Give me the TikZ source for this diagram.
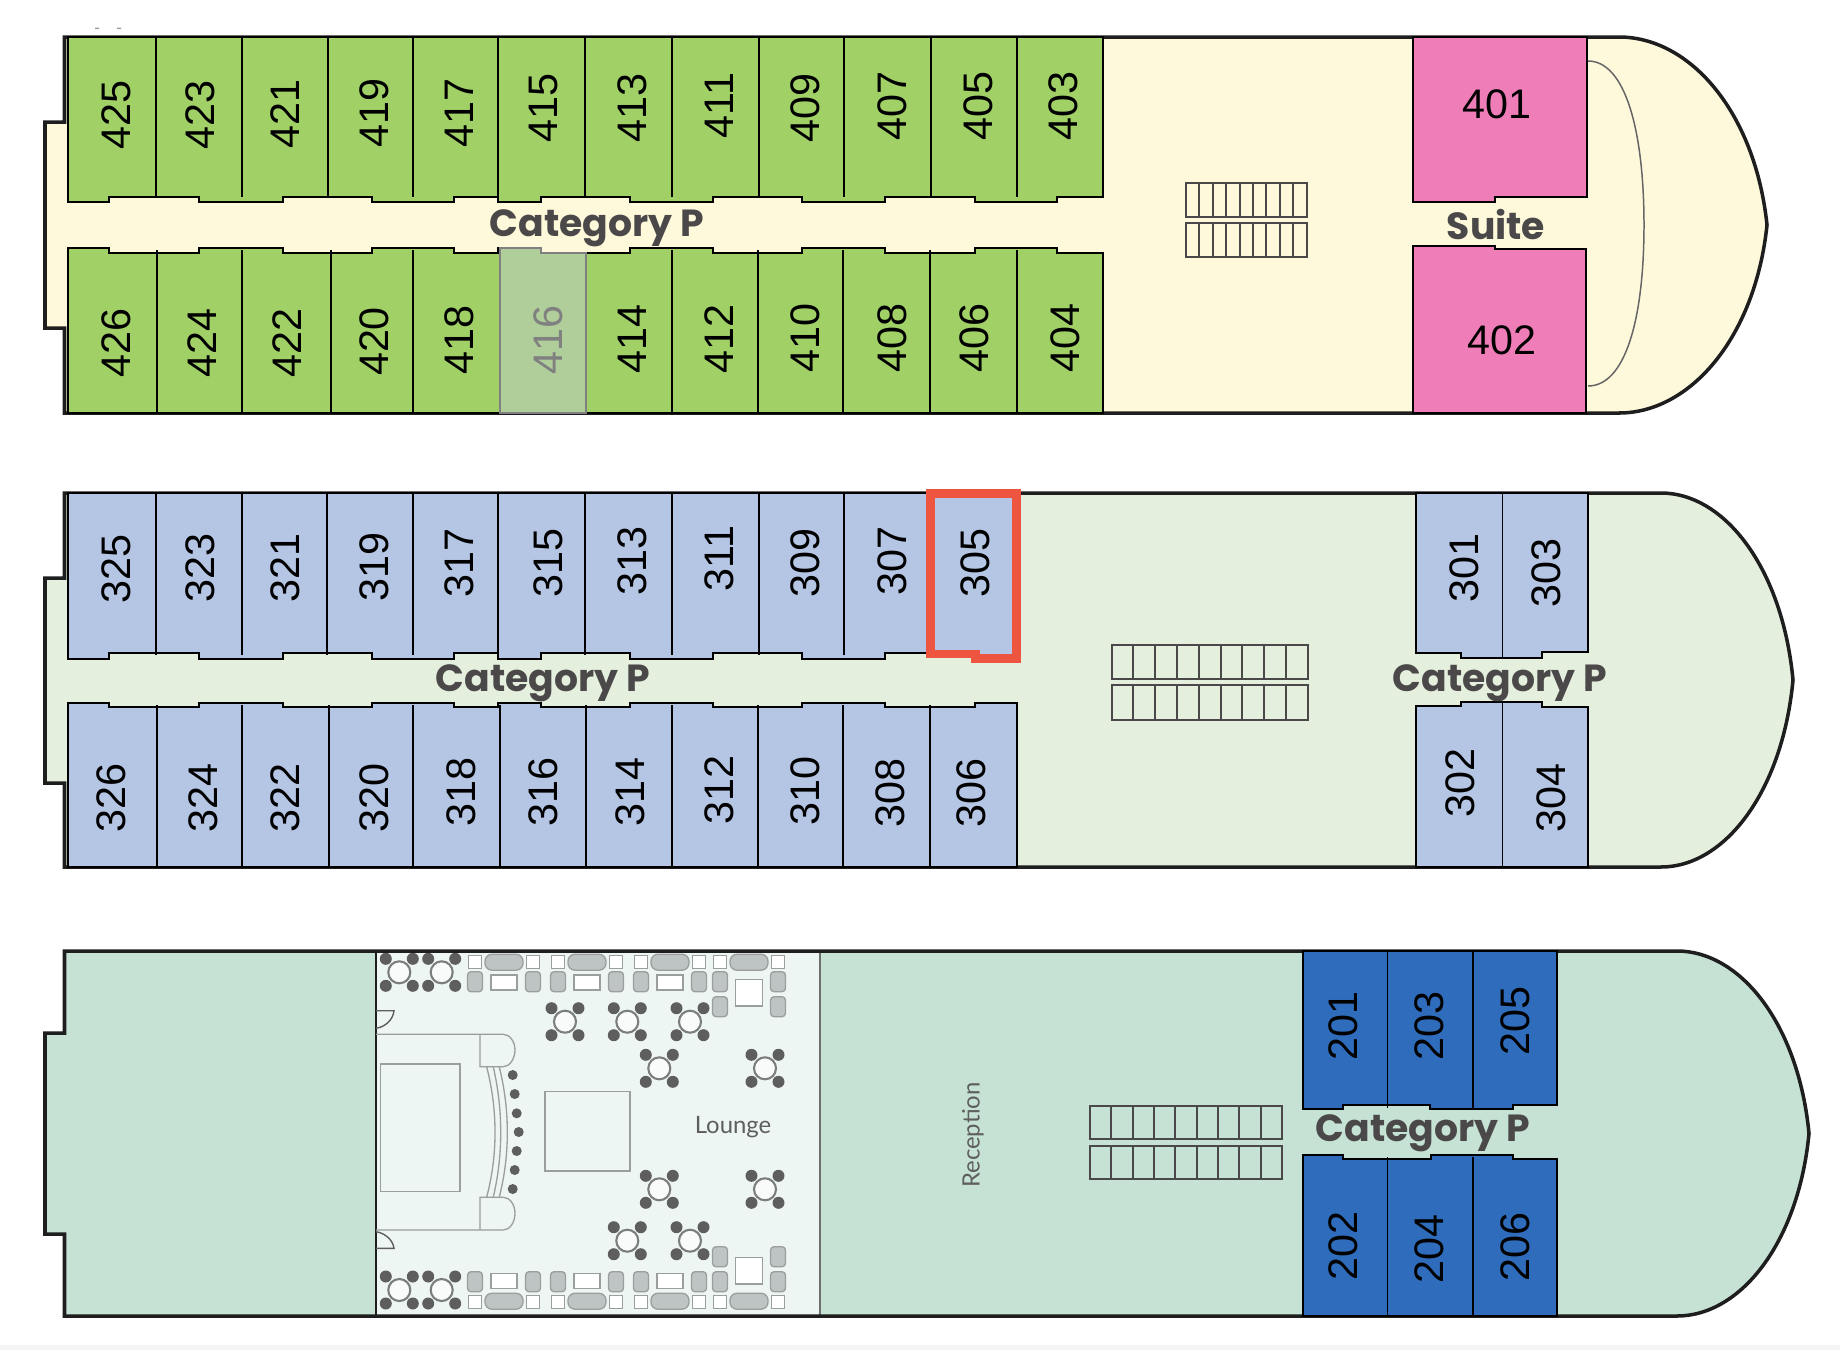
\documentclass[tikz,border=0pt]{standalone}
\usepackage{xcolor}
\usepackage{fontspec}
\usepackage{tikz}
\setmainfont{Liberation Sans}
\newfontfamily\catfont{Poppins}
\newfontfamily\signfont{Lato}
\definecolor{inkline}{HTML}{1E1E1E}
\definecolor{deckfour}{HTML}{FEF9DB}
\definecolor{deckthree}{HTML}{E5EFDD}
\definecolor{decktwo}{HTML}{C6E2D4}
\definecolor{loungebg}{HTML}{EEF6F3}
\definecolor{catgreen}{HTML}{A0D066}
\definecolor{catfaded}{HTML}{B0CE9A}
\definecolor{catpink}{HTML}{EF7EB8}
\definecolor{catlilac}{HTML}{B5C5E4}
\definecolor{catblue}{HTML}{2F6DBC}
\definecolor{marker}{HTML}{EE5540}
\definecolor{catgrey}{HTML}{4A4848}
\definecolor{fittings}{HTML}{9A9E9C}
\definecolor{softseat}{HTML}{BEC4C4}
\definecolor{darkseat}{HTML}{5E5E5E}
\tikzset{
  hullline/.style={draw=inkline, line width=2pt, line join=miter},
  cabin/.style={draw=black, line width=1.15pt},
  divider/.style={draw=black, line width=0.85pt},
  stairline/.style={draw=catgrey, line width=1.1pt},
  roomlabel/.style={rotate=90, font=\fontsize{23.5}{26}\selectfont, inner sep=0pt},
  flatlabel/.style={font=\fontsize{23.5}{26}\selectfont, inner sep=0pt},
  catlabel/.style={text=catgrey, font=\catfont\bfseries\fontsize{21.5}{24}\selectfont, inner sep=0pt},
  signlabel/.style={text=darkseat, font=\signfont\fontsize{13.6}{16}\selectfont, inner sep=0pt},
  fitting/.style={draw=fittings, line width=0.75pt},
  tableset/.pic={
    \fill[darkseat] (-13.5,-13.5) circle (6) (13.5,-13.5) circle (6) (-13.5,13.5) circle (6) (13.5,13.5) circle (6);
    \filldraw[draw=fittings!80!black, line width=1.2pt, fill=loungebg!40!white] (0,0) circle (11);
  },
  sofaset/.pic={
    \foreach \sx in {-29,29} {
      \filldraw[fitting, fill=white] (\sx-6.5,-6.5) rectangle (\sx+6.5,6.5);
      \filldraw[fitting, fill=softseat, rounded corners=2pt] (\sx-7.5,10) rectangle (\sx+7.5,30);
    }
    \filldraw[fitting, fill=softseat, rounded corners=4pt] (-19,-7.5) rectangle (19,8.5);
  },
  sofatable/.pic={\filldraw[fitting, fill=white] (-13,13.3) rectangle (13,28.3);},
  cornertable/.pic={
    \foreach \sx in {-29,29}
      \filldraw[fitting, fill=softseat, rounded corners=2pt] (\sx-7.5,35) rectangle (\sx+7.5,55);
    \filldraw[fitting, fill=white] (-13.3,17.7) rectangle (13.3,44.3);
  },
}
% outline of a deck: top, bottom, notch top, notch bottom, end of straight side, bow tip
\newcommand{\hullpath}[6]{(64.5,#1) -- (#5,#1)
  .. controls ({#5+0.48*(#6-#5)},#1) and ({#6-0.08*(#6-#5)},{(#1+#2)/2-0.3*(#2-#1)}) .. (#6,{(#1+#2)/2})
  .. controls ({#6-0.08*(#6-#5)},{(#1+#2)/2+0.3*(#2-#1)}) and ({#5+0.48*(#6-#5)},#2) .. (#5,#2)
  -- (64.5,#2) -- (64.5,#4) -- (45,#4) -- (45,#3) -- (64.5,#3) -- cycle}
% corridor edge shared by decks 4 and 3
\newcommand{\stepedge}[2]{(68,#1) -| (109,#2) -| (199,#1) -| (283,#2) -| (372,#1) -| (454,#2)
  -| (498,#1) -| (541,#2) -| (630,#1) -| (713,#2) -| (802,#1) -| (885,#2)}
\newcommand{\stairs}[4]{
  \draw[stairline] (#1,#3) rectangle (#2,#4);
  \foreach \i in {1,...,8} \draw[stairline] ({#1+\i*(#2-#1)/9},#3) -- ({#1+\i*(#2-#1)/9},#4);
}

\begin{document}
\begin{tikzpicture}[x=0.02cm, y=-0.02cm]
  \useasboundingbox (0,0) rectangle (1840,1350);
  \fill[white] (0,0) rectangle (1840,1350);
  \fill[black!4] (0,1345) rectangle (1840,1350);
  \fill[fittings] (95,27.5) rectangle (99,29) (117,27.5) rectangle (121,29);

  % deck 4
  \fill[deckfour] \hullpath{37}{413}{122}{328}{1619}{1767};
  \draw[hullline] \hullpath{37}{413}{122}{328}{1619}{1767};
  \draw[cabin, fill=catgreen] (1103,37) -- (68,37) -- \stepedge{202}{197} -| (975,202) -| (1057,197) -- (1103,197) -- cycle;
  \draw[cabin, fill=catgreen] \stepedge{248}{253} -| (975,248) -| (1057,253) -- (1103,253) -- (1103,413) -- (68,413) -- cycle;
  \draw[draw=black!50, line width=0.85pt, fill=catfaded] (500,413) -- (500,248) -- (541,248) -- (541,253) -- (586,253) -- (586,413) -- cycle;
  \foreach \dx in {156,242,328,413,498,585,672,759,844,931,1017}
    \draw[divider] (\dx,37) -- (\dx,197);
  \foreach \dx in {157,242,331,413,672,758,843,930,1017}
    \draw[divider] (\dx,250) -- (\dx,413);
  \draw[cabin, fill=catpink] (1413,37) -- (1587,37) -- (1587,197) -- (1495,197) -- (1495,202) -- (1413,202) -- cycle;
  \draw[cabin, fill=catpink] (1413,246) -- (1495,246) -- (1495,249) -- (1586,249) -- (1586,413) -- (1413,413) -- cycle;
  \draw[draw=black!60, line width=0.85pt] (1588,61) .. controls (1625,61) and (1644,130) .. (1644,225) .. controls (1644,320) and (1625,386) .. (1588,386);
  \stairs{1186}{1306.6}{183}{217}
  \stairs{1186}{1306.6}{223}{257}

  % deck 3
  \fill[deckthree] \hullpath{493}{867}{578}{783}{1661}{1793};
  \draw[hullline] \hullpath{493}{867}{578}{783}{1661}{1793};
  \draw[cabin, fill=catlilac] (1017,493) -- (68,493) -- \stepedge{659}{653} -- (1017,653) -- cycle;
  \draw[cabin, fill=catlilac] \stepedge{703}{707} -| (975,703) -- (1017,703) -- (1017,867) -- (68,867) -- cycle;
  \foreach \dx in {156,242,327,413,498,585,672,759,844}
    \draw[divider] (\dx,493) -- (\dx,655);
  \foreach \dx in {157,242,329,413,500,586,672,758,843,930}
    \draw[divider] (\dx,705) -- (\dx,867);
  \draw[cabin, fill=catlilac] (1415.6,493) -- (1587.6,493) -- (1587.6,652) -- (1541.5,652) -- (1541.5,658) -- (1460.5,658) -- (1460.5,653) -- (1415.6,653) -- cycle;
  \draw[cabin, fill=catlilac] (1415.6,706) -- (1460.5,706) -- (1460.5,702) -- (1541.5,702) -- (1541.5,707) -- (1587.6,707) -- (1587.6,867) -- (1415.6,867) -- cycle;
  \draw[divider] (1502.5,493) -- (1502.5,657) (1502.5,703) -- (1502.5,867);
  \draw[draw=marker, line width=5.1pt, line join=miter, fill=catlilac] (930.5,493.5) -- (1016.5,493.5) -- (1016.5,658.5) -- (975.5,658.5) -- (975.5,654) -- (930.5,654) -- cycle;
  \stairs{1111.6}{1307.7}{645}{679}
  \stairs{1111.6}{1307.7}{685}{720}

  % deck 2
  \fill[decktwo] \hullpath{951}{1316}{1033}{1234}{1677}{1809};
  \fill[loungebg] (376,951) rectangle (820,1316);
  \draw[draw=inkline, line width=1.1pt] (376,951) -- (376,1316);
  \draw[draw=fittings!70!black, line width=1.6pt] (820,951) -- (820,1316);
  % lounge
  \foreach \tx/\ty in {399.3/972.3, 441.7/972.3, 399.3/1290, 441.7/1290, 565/1021.7, 627.3/1021.7, 690/1021.7,
    659.3/1068.3, 765/1068.3, 659.3/1189.3, 765/1189.3, 627.3/1240.7, 690/1240.7}
    \pic at (\tx,\ty) {tableset};
  \foreach \fy in {1,-1} {
    \begin{scope}[shift={(0,1131.7)}, yscale=\fy]
      \foreach \sx in {504,587,670} {
        \pic[transform shape] at (\sx,-170) {sofaset};
        \pic[transform shape] at (\sx,-170) {sofatable};
      }
      \pic[transform shape] at (749,-170) {sofaset};
      \pic[transform shape] at (749,-170) {cornertable};
    \end{scope}
  }
  \draw[fitting] (376,1034.3) -- (503.3,1034.3) .. controls (510,1034.3) and (515,1042) .. (515,1050) .. controls (515,1058) and (510,1066.7) .. (503.3,1066.7) -- (480,1066.7) -- (480,1034.3);
  \draw[fitting] (376,1230) -- (503.3,1230) .. controls (510,1230) and (515,1222) .. (515,1213.3) .. controls (515,1205) and (510,1197.3) .. (503.3,1197.3) -- (480,1197.3) -- (480,1230);
  \draw[fitting] (380.7,1064) rectangle (460,1191.7);
  \draw[fitting] (545,1091.7) rectangle (630,1171);
  \draw[fitting] (486.7,1067) .. controls (497.8,1110) and (497.8,1155) .. (486.7,1197);
  \draw[fitting] (493.3,1067) .. controls (503.2,1110) and (503.2,1155) .. (493.3,1197);
  \draw[fitting] (499.3,1067) .. controls (510,1110) and (510,1155) .. (499.3,1197);
  \foreach \bx/\by in {512.7/1075, 514.7/1094, 516.7/1113.3, 518.7/1132, 516.7/1151, 514.7/1170, 512.7/1189}
    \fill[darkseat] (\bx,\by) circle (5);
  \draw[draw=darkseat, line width=0.8pt] (376,1010.7) -- (394,1010.7) .. controls (393,1020) and (385,1027) .. (376,1028.3);
  \draw[draw=darkseat, line width=0.8pt] (376,1231.7) .. controls (385,1233) and (393,1240) .. (394,1248.3) -- (376,1248.3);
  \draw[hullline] \hullpath{951}{1316}{1033}{1234}{1677}{1809};
  % cabins
  \draw[cabin, fill=catblue] (1303,951) -- (1557,951) -- (1557,1105) -- (1513,1105) -- (1513,1109) -- (1430,1109) -- (1430,1105) -- (1343,1105) -- (1343,1109) -- (1303,1109) -- cycle;
  \draw[cabin, fill=catblue] (1303,1155) -- (1343,1155) -- (1343,1159) -- (1431,1159) -- (1431,1155) -- (1513,1155) -- (1513,1159) -- (1557,1159) -- (1557,1316) -- (1303,1316) -- cycle;
  \foreach \dx in {1387.5,1473}
    \draw[divider] (\dx,951) -- (\dx,1108) (\dx,1157) -- (\dx,1316);
  \stairs{1090}{1282}{1106}{1139}
  \stairs{1090}{1282}{1146}{1179}

  % room numbers, placed in the scale of the plan
  \begin{scope}[scale=1.1735]
    \foreach \lab/\lx/\ly in {425/99/98, 423/171/98, 421/243/97, 419/319/96, 417/391/96, 415/463/92, 413/539/92, 411/613/90, 409/686/92, 407/760/90, 405/834/90, 403/906/90,
      426/99/292, 424/172/292, 422/245/292, 420/319/291, 418/391/290, 414/539/289, 412/613/289, 410/686/288, 408/760/288, 406/830/288, 404/908/288,
      325/99/485, 323/171/484, 321/243/484, 319/319/483, 317/391/480, 315/467/480, 313/539/478, 311/613/476, 309/686/480, 307/760/478, 305/831/480, 301/1248/484, 303/1318/488,
      326/95/680, 324/173/680, 322/243/680, 320/319/680, 318/393/675, 316/463/675, 314/537/675, 312/613/673, 310/686/674, 308/759/676, 306/828/676, 302/1244/667, 304/1322/680,
      201/1145/874, 203/1218/874, 205/1291/870, 202/1145/1062, 204/1218/1064, 206/1291/1063}
      \node[roomlabel] (r\lab) at (\lx,\ly) {\lab};
    \node[roomlabel, text=black!50] (r416) at (467,290) {416};
    \node[flatlabel] (r401) at (1276,89) {401};
    \node[flatlabel] (r402) at (1280,290) {402};
  \end{scope}

  \node[catlabel] (catfour) at (597,228) {Category P};
  \node[catlabel] (suite) at (1496,225) {Suite};
  \node[catlabel] (catthree) at (543,683) {Category P};
  \node[catlabel] (catforward) at (1500,683) {Category P};
  \node[catlabel] (cattwo) at (1423,1133) {Category P};
  \node[signlabel] (lounge) at (733,1127) {Lounge};
  \node[signlabel, rotate=90] (reception) at (973,1135) {Reception};
\end{tikzpicture}
\end{document}
